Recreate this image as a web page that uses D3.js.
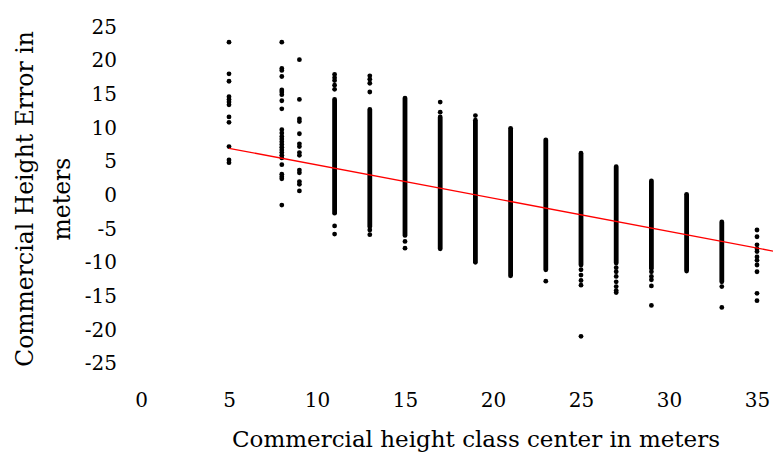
<!DOCTYPE html>
<html>
<head>
<meta charset="utf-8">
<script src="https://cdn.jsdelivr.net/npm/d3@7"></script>
<style>
  html, body { margin: 0; padding: 0; background: #fff; }
  text { font-family: "DejaVu Serif", "Liberation Serif", serif; fill: #000; }
</style>
</head>
<body>
<div id="chart"></div>
<script>
const WIDTH = 773;
const HEIGHT = 452;
const DOT_R = 2.4;

// class centers (x) and the values
const classCenters = [5, 8, 9, 11, 13, 15, 17, 19, 21, 23, 25, 27, 29, 31, 33, 35];

// individual, separately visible points per class
const loosePoints = [
  [22.7, 18.0, 16.9, 14.6, 14.2, 13.8, 13.4, 11.6, 10.8, 7.2, 5.2, 4.8],
  [22.7, 18.8, 18.5, 17.6, 15.6, 15.3, 14.9, 14.0, 12.8, 9.7, 9.2, 8.7, 8.3, 7.9, 7.5, 7.1, 6.7, 6.3, 5.9, 5.5, 4.5, 3.1, 2.7, 2.4, -1.5],
  [20.1, 14.2, 11.3, 10.9, 9.1, 7.6, 7.2, 6.3, 5.9, 3.7, 3.3, 2.0, 1.6, 0.6],
  [17.9, 17.4, 17.0, 16.3, 15.7, -4.6, -5.8],
  [17.7, 17.2, 16.6, 15.3, -5.2, -5.9],
  [-6.9, -7.9],
  [13.8, 12.3],
  [11.8],
  [],
  [-12.8],
  [-11.1, -11.9, -12.7, -13.4, -21.0],
  [-10.8, -11.4, -12.1, -12.9, -13.6, -14.2, -14.5],
  [-11.4, -12.1, -12.6, -13.5, -16.4],
  [],
  [-13.6, -16.7],
  [-5.2, -6.2, -7.4, -8.0, -8.4, -9.2, -9.7, -10.4, -11.4, -14.6, -15.7]
];

// spans so densely packed with points that they read as solid bars [top, bottom]
const denseSpans = [
  [],
  [],
  [],
  [[14.2, -2.7]],
  [[12.7, -4.7]],
  [[14.4, -6.0]],
  [[11.6, -8.0]],
  [[11.1, -10.0]],
  [[9.9, -12.0]],
  [[8.2, -11.1]],
  [[6.2, -10.4]],
  [[4.2, -10.1]],
  [[2.1, -10.9]],
  [[0.1, -11.3]],
  [[-4.0, -12.9]],
  []
];

// linear trend line
const trendSlope = -0.494;
const trendIntercept = 9.41;
const trendFrom = 5;
const trendTo = 36;

const xTicks = [0, 5, 10, 15, 20, 25, 30, 35];
const yTicks = [25, 20, 15, 10, 5, 0, -5, -10, -15, -20, -25];

const xTitle = 'Commercial height class center in meters';
const yTitleLines = ['Commercial Height Error in', 'meters'];

const x = d3.scaleLinear().domain([0, 35]).range([141, 757]);
const y = d3.scaleLinear().domain([-25, 25]).range([363.3, 26.7]);

const svg = d3.select('#chart')
  .append('svg')
  .attr('width', WIDTH)
  .attr('height', HEIGHT);

svg.append('defs').append('clipPath').attr('id', 'clip')
  .append('rect').attr('x', 0).attr('y', 0).attr('width', WIDTH).attr('height', HEIGHT);

// axes without lines, only labels (plain hyphen for negatives)
const xAxis = svg.append('g')
  .attr('transform', 'translate(0,390)')
  .call(d3.axisBottom(x).tickValues(xTicks).tickSize(0).tickPadding(0).tickFormat(d => String(d)));
xAxis.select('.domain').remove();
xAxis.selectAll('text')
  .attr('font-size', 20)
  .attr('font-family', '"DejaVu Serif", serif')
  .attr('dy', '0.85em');

const yAxis = svg.append('g')
  .attr('transform', 'translate(117,0)')
  .call(d3.axisLeft(y).tickValues(yTicks).tickSize(0).tickPadding(0).tickFormat(d => String(d)));
yAxis.select('.domain').remove();
yAxis.selectAll('text')
  .attr('font-size', 20)
  .attr('font-family', '"DejaVu Serif", serif');

// dense columns drawn as round-capped bars
const spans = classCenters.flatMap((c, i) => denseSpans[i].map(s => ({ c, top: s[0], bottom: s[1] })));
svg.append('g')
  .attr('stroke', '#000')
  .attr('stroke-width', DOT_R * 2)
  .attr('stroke-linecap', 'round')
  .selectAll('line')
  .data(spans)
  .join('line')
  .attr('x1', d => x(d.c))
  .attr('x2', d => x(d.c))
  .attr('y1', d => y(d.top))
  .attr('y2', d => y(d.bottom));

const dots = classCenters.flatMap((c, i) => loosePoints[i].map(v => ({ c, v })));
svg.append('g')
  .attr('fill', '#000')
  .selectAll('circle')
  .data(dots)
  .join('circle')
  .attr('cx', d => x(d.c))
  .attr('cy', d => y(d.v))
  .attr('r', DOT_R);

// trend line
const trend = [trendFrom, trendTo].map(t => [t, trendIntercept + trendSlope * t]);
svg.append('path')
  .datum(trend)
  .attr('clip-path', 'url(#clip)')
  .attr('fill', 'none')
  .attr('stroke', '#ff0000')
  .attr('stroke-width', 1.3)
  .attr('d', d3.line().x(d => x(d[0])).y(d => y(d[1])));

// titles
svg.append('text')
  .attr('x', 476)
  .attr('y', 447)
  .attr('text-anchor', 'middle')
  .attr('font-size', 23)
  .text(xTitle);

const yTitle = svg.append('text')
  .attr('transform', 'translate(0,199) rotate(-90)')
  .attr('text-anchor', 'middle')
  .attr('font-size', 23.5);
yTitle.selectAll('tspan')
  .data(yTitleLines)
  .join('tspan')
  .attr('x', 0)
  .attr('y', (d, i) => i === 0 ? 33 : 70)
  .text(d => d);
</script>
</body>
</html>
